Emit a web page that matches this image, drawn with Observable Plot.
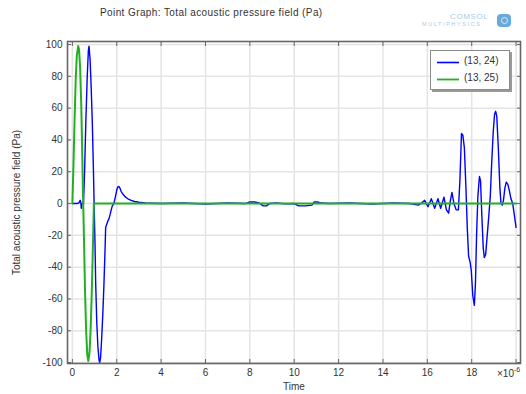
<!DOCTYPE html>
<html>
<head>
<meta charset="utf-8">
<script src="https://cdn.jsdelivr.net/npm/d3@7"></script>
<script src="https://cdn.jsdelivr.net/npm/@observablehq/plot@0.6"></script>
<style>
  html, body { margin: 0; padding: 0; background: #fff; }
  #wrap { position: relative; width: 526px; height: 394px; overflow: hidden; font-family: "Liberation Sans", Arial, sans-serif; color: #333; }
  #title { position: absolute; left: 100px; top: 7px; font-size: 10px; letter-spacing: 0.4px; white-space: nowrap; }
  #logoC { position: absolute; left: 450px; top: 12px; font-size: 8px; letter-spacing: 0.6px; color: #a9c9e6; z-index: 5; }
  #logoM { position: absolute; left: 422px; top: 21px; font-size: 5.5px; letter-spacing: 1.6px; color: #a9c9e6; z-index: 5; }
  #logoI { position: absolute; left: 497px; top: 14px; width: 14px; height: 13px; border-radius: 4px; background-color: #6aa9db; z-index: 5; display: block; }
  #logoI2 { position: absolute; left: 501px; top: 17px; width: 5px; height: 5px; border-radius: 50%; border: 1.5px solid #d8ebf8; z-index: 6; display: block; }
  #chart { position: absolute; left: 0; top: 28px; }
  #exp { position: absolute; left: 497px; top: 367px; font-size: 10px; white-space: nowrap; }
  #exp sup { font-size: 7px; position: relative; top: -1px; }
  #legend { position: absolute; left: 430px; top: 50px; width: 78px; height: 38px; background: #fff; border: 1px solid #8a8a8a; box-shadow: 2px 2px 0 #9a9a9a; font-size: 10px; }
  #legend .row { position: absolute; left: 6px; height: 12px; white-space: nowrap; }
  #legend .row svg { position: absolute; left: 0; top: 5px; }
  #legend .row span { position: absolute; left: 27px; top: -1px; }
</style>
</head>
<body>
<div id="wrap">
  <div id="title"></div>
  <div id="chart"></div>
  <div id="logoC">COMSOL</div>
  <div id="logoM">MULTIPHYSICS</div>
  <div id="logoI"></div>
  <div id="logoI2"></div>
  <div id="exp">×10<sup>-6</sup></div>
  <div id="legend"></div>
</div>
<script>
const titleText = "Point Graph: Total acoustic pressure field (Pa)";
const xLabel = "Time";
const yLabel = "Total acoustic pressure field (Pa)";
const seriesNames = ["(13, 24)", "(13, 25)"];

const xTicks = [0, 2, 4, 6, 8, 10, 12, 14, 16, 18];
const xTickMarks = [0, 2, 4, 6, 8, 10, 12, 14, 16, 18, 20];
const yTicks = [-100, -80, -60, -40, -20, 0, 20, 40, 60, 80, 100];

// (13, 24) — time in 1e-6 s, pressure in Pa
const timeA = [0, 0.2, 0.3, 0.35, 0.38, 0.4, 0.42, 0.45, 0.5, 0.55,
  0.61, 0.67, 0.72, 0.75, 0.8, 0.85, 0.9, 0.95, 0.98, 1.02,
  1.05, 1.1, 1.15, 1.2, 1.23, 1.27, 1.32, 1.37, 1.42, 1.47,
  1.5, 1.55, 1.6, 1.65, 1.7, 1.75, 1.8, 1.87, 1.95, 2.0,
  2.05, 2.1, 2.15, 2.2, 2.3, 2.4, 2.5, 2.65, 2.8, 3.0,
  3.3, 3.6, 4.0, 5.0, 6.0, 7.0, 7.8, 8.0, 8.2, 8.4,
  8.6, 8.75, 8.9, 9.2, 9.6, 10.0, 10.2, 10.5, 10.8, 10.9,
  11.05, 11.2, 11.6, 12.5, 13.5, 14.5, 15.2, 15.6, 15.75, 15.88,
  16.03, 16.18, 16.33, 16.48, 16.6, 16.75, 16.86, 16.96, 17.04, 17.11,
  17.2, 17.3, 17.4, 17.47, 17.54, 17.6, 17.67, 17.74, 17.8, 17.86,
  17.93, 17.98, 18.05, 18.12, 18.17, 18.22, 18.28, 18.35, 18.4, 18.45,
  18.52, 18.57, 18.63, 18.7, 18.77, 18.84, 18.9, 18.97, 19.03, 19.08,
  19.13, 19.2, 19.27, 19.32, 19.38, 19.43, 19.5, 19.56, 19.63, 19.7,
  19.77, 19.85, 19.92, 20.0];
const pressureA = [0, 0, 0.5, 2, 1, -3, -1, 0, 0, 20,
  53, 80, 96, 99, 90, 72, 50, 20, 0, -25,
  -50, -75, -90, -98, -100, -97, -85, -70, -52, -30,
  -15, -13, -11, -9.5, -7, -4, -1.5, 0, 5, 8.5,
  10.5, 10.7, 9.5, 7.5, 5.5, 4, 3, 2, 1.3, 0.8,
  0.4, 0.2, 0, 0.3, -0.3, 0.3, 0, 1, 1, 0.5,
  -1.5, -1.5, 0, 0.3, -0.2, 0, -1.5, -1.5, -1, 1,
  1, 0.3, 0, 0.3, -0.3, 0.3, 0, -1, 0.5, 2,
  -2, 3, -3, 3, -3, 4, -4, -6, 2, 7,
  0, -4, -4, 15, 44, 43, 35, 10, -15, -33,
  -37, -42, -58, -64, -50, -20, 5, 17, 14, -5,
  -28, -34, -32, -20, -8, 5, 25, 45, 56, 58,
  55, 35, 10, 0, -1, 2, 10, 13.5, 12, 8,
  3, 0, -7, -15];

// (13, 25)
const timeB = [0, 0.05, 0.1, 0.15, 0.2, 0.26, 0.3, 0.35, 0.4, 0.44,
  0.48, 0.52, 0.57, 0.62, 0.67, 0.72, 0.77, 0.82, 0.87, 0.92,
  0.97, 5, 10, 15, 20.0];
const pressureB = [0, 25, 53, 78, 93, 99, 97, 85, 62, 35,
  5, -20, -55, -80, -95, -99, -94, -80, -58, -30,
  0, 0, 0, 0, 0];

const colorA = "#0000ff";
const colorB = "#22b022";

const dataA = timeA.map((t, i) => ({t, p: pressureA[i]}));
const dataB = timeB.map((t, i) => ({t, p: pressureB[i]}));

document.getElementById("title").textContent = titleText;

const axisStroke = "#666";
const chart = Plot.plot({
  width: 526,
  height: 366,
  marginTop: 13,
  marginBottom: 31,
  marginLeft: 67,
  marginRight: 6,
  style: {fontFamily: "'Liberation Sans', Arial, sans-serif", fontSize: "10px", color: "#333", background: "transparent", overflow: "visible"},
  x: {domain: [-0.22, 20.2]},
  y: {domain: [-100.6, 101.9]},
  marks: [
    Plot.gridX(xTickMarks, {stroke: "#e4e4e4", strokeOpacity: 1, strokeWidth: 1.5}),
    Plot.gridY(yTicks, {stroke: "#e4e4e4", strokeOpacity: 1, strokeWidth: 1.5}),
    Plot.line(dataA, {x: "t", y: "p", stroke: colorA, strokeWidth: 1.4}),
    Plot.line(dataB, {x: "t", y: "p", stroke: colorB, strokeWidth: 2}),
    Plot.frame({stroke: axisStroke, strokeWidth: 1.6}),
    Plot.axisX(xTickMarks, {anchor: "bottom", tickSize: -4, text: null, stroke: axisStroke, label: null}),
    Plot.axisX(xTickMarks, {anchor: "top", tickSize: -4, text: null, stroke: axisStroke, label: null}),
    Plot.axisY(yTicks, {anchor: "left", tickSize: -4, text: null, stroke: axisStroke, label: null}),
    Plot.axisY(yTicks, {anchor: "right", tickSize: -4, text: null, stroke: axisStroke, label: null}),
    Plot.axisX(xTicks, {anchor: "bottom", tickSize: 0, tickPadding: 5, tickFormat: d => String(d), label: xLabel, labelAnchor: "center", labelArrow: "none", labelOffset: 26}),
    Plot.axisY(yTicks, {anchor: "left", tickSize: 0, tickPadding: 5, tickFormat: d => String(d), label: yLabel, labelAnchor: "center", labelArrow: "none", labelOffset: 55})
  ]
});
document.getElementById("chart").appendChild(chart);

const legend = document.getElementById("legend");
seriesNames.forEach((name, i) => {
  const row = document.createElement("div");
  row.className = "row";
  row.style.top = (i === 0 ? 5 : 22) + "px";
  const c = i === 0 ? colorA : colorB;
  row.innerHTML = `<svg width="23" height="3"><line x1="0" y1="1.5" x2="22" y2="1.5" stroke="${c}" stroke-width="${i === 0 ? 1.6 : 1.8}"/></svg><span>${name}</span>`;
  legend.appendChild(row);
});
</script>
</body>
</html>
